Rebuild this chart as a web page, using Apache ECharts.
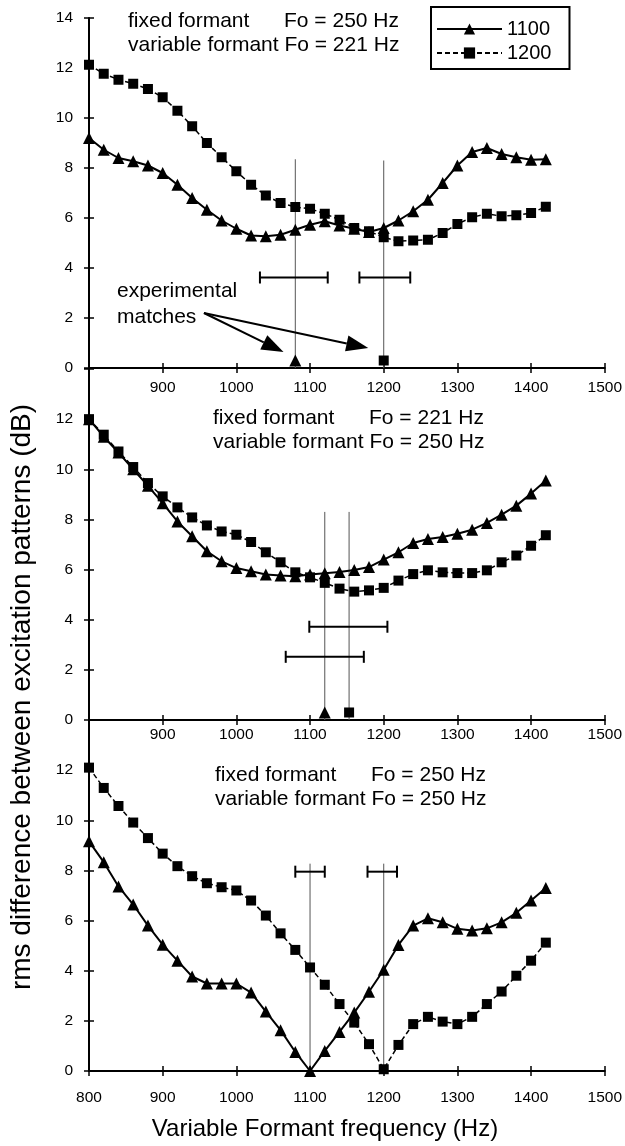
<!DOCTYPE html>
<html><head><meta charset="utf-8">
<script src="https://cdn.jsdelivr.net/npm/echarts@6/dist/echarts.min.js"></script>
<style>html,body{margin:0;padding:0;background:#fff}#c{width:625px;height:1146px}</style>
</head><body><div id="c"></div>
<script>
// ---------- data ----------
const freqs = [800,820,840,860,880,900,920,940,960,980,1000,1020,1040,1060,1080,1100,
               1120,1140,1160,1180,1200,1220,1240,1260,1280,1300,1320,1340,1360,1380,1400,1420];

// Panel 1: fixed Fo = 250 Hz, variable Fo = 221 Hz
const p1_1100 = [9.2,8.73,8.4,8.27,8.1,7.8,7.33,6.8,6.33,5.9,5.57,5.3,5.27,5.33,5.53,5.73,
                 5.87,5.7,5.57,5.44,5.6,5.9,6.27,6.73,7.4,8.1,8.64,8.8,8.56,8.43,8.33,8.35];
const p1_1200 = [12.13,11.77,11.53,11.37,11.16,10.83,10.29,9.67,9.0,8.43,7.87,7.33,6.9,6.6,6.44,6.37,
                 6.17,5.93,5.6,5.47,5.23,5.07,5.1,5.13,5.4,5.76,6.03,6.17,6.07,6.11,6.2,6.45];
// Panel 2: fixed Fo = 221 Hz, variable Fo = 250 Hz
const p2_1100 = [12.0,11.3,10.67,10.0,9.34,8.65,7.92,7.33,6.73,6.33,6.06,5.93,5.8,5.76,5.73,5.8,
                 5.85,5.9,5.98,6.1,6.4,6.69,7.06,7.22,7.3,7.43,7.59,7.86,8.19,8.55,9.03,9.55];
const p2_1200 = [12.0,11.38,10.71,10.09,9.45,8.92,8.48,8.08,7.76,7.52,7.39,7.1,6.69,6.29,5.89,5.69,
                 5.47,5.24,5.12,5.17,5.27,5.56,5.82,5.97,5.89,5.86,5.86,5.97,6.29,6.56,6.95,7.37];
// Panel 3: fixed Fo = 250 Hz, variable Fo = 250 Hz
const p3_1100 = [9.16,8.33,7.36,6.64,5.8,5.04,4.4,3.77,3.49,3.49,3.49,3.13,2.37,1.63,0.76,0.0,
                 0.8,1.56,2.33,3.16,4.04,5.03,5.8,6.09,5.93,5.67,5.6,5.69,5.93,6.31,6.8,7.3];
const p3_1200 = [12.1,11.29,10.57,9.91,9.29,8.67,8.17,7.77,7.49,7.33,7.2,6.8,6.2,5.49,4.83,4.13,
                 3.44,2.67,1.93,1.07,0.07,1.04,1.87,2.16,1.97,1.87,2.16,2.67,3.17,3.8,4.4,5.12];

// experimental matches: [frequency, top of guide line]
const guides = [
  [[1080, 8.35], [1200, 8.3]],
  [[1120, 8.3], [1153, 8.3]],
  [[1100, 8.27], [1200, 8.27]]
];
// error bars: [low, high, level]
const errBars = [
  [[1032, 1124, 3.62], [1167, 1236, 3.62]],
  [[1099, 1205, 3.72], [1067, 1173, 2.52]],
  [[1080, 1120, 7.95], [1178, 1218, 7.95]]
];
// matched markers on the axis
const matchTri = [[[1080, 0.3]], [[1120, 0.3]], []];
const matchSq  = [[[1200, 0.3]], [[1153, 0.3]], []];
// arrows in panel 1: [x1, y1, x2, y2]
const arrows1 = [[956, 2.2, 1064, 0.64], [956, 2.2, 1179, 0.8]];

const xTickMin = 800, xTickMax = 1500, xStep = 100;
const yMin = 0, yMax = 14, yStep = 2;

const panelText = [
  {l1: 'fixed formant', fo: 'Fo = 250 Hz', l2: 'variable formant Fo = 221 Hz'},
  {l1: 'fixed formant', fo: 'Fo = 221 Hz', l2: 'variable formant Fo = 250 Hz'},
  {l1: 'fixed formant', fo: 'Fo = 250 Hz', l2: 'variable formant Fo = 250 Hz'}
];

// ---------- layout ----------
const FONT = '"Liberation Sans", Arial, Helvetica, sans-serif';
const grids = [
  {left: 89, top: 18, width: 525, height: 350},
  {left: 89, top: 369, width: 525, height: 351},
  {left: 89, top: 720, width: 525, height: 351}
];
const xLabelMargin = [12, 7, 19];
const textPos = [
  {x: 128, xr: 399, y1: 21, y2: 45},
  {x: 213, xr: 484, y1: 418, y2: 442},
  {x: 215, xr: 486, y1: 775, y2: 799}
];

const xAxes = [], yAxes = [];
for (let i = 0; i < 3; i++) {
  xAxes.push({
    type: 'value', gridIndex: i, min: xTickMin, max: xTickMax, interval: xStep, position: 'bottom',
    axisLine: {show: true, onZero: false, lineStyle: {color: '#000', width: 2}},
    axisTick: {show: true, length: 5, lineStyle: {color: '#000', width: 1.5}},
    axisLabel: {show: true, color: '#000', fontSize: 15.5, fontFamily: FONT, margin: xLabelMargin[i],
      showMinLabel: true, showMaxLabel: true,
      formatter: (v) => (i < 2 && v === xTickMin) ? '' : String(v)},
    splitLine: {show: false}
  });
  yAxes.push({
    type: 'value', gridIndex: i, min: yMin, max: yMax, interval: yStep, position: 'left',
    axisLine: {show: true, onZero: false, lineStyle: {color: '#000', width: 2}},
    axisTick: {show: true, length: 5, lineStyle: {color: '#000', width: 1.5}},
    axisLabel: {show: true, color: '#000', fontSize: 15.5, fontFamily: FONT, margin: 16,
      showMinLabel: true, showMaxLabel: true,
      formatter: (v) => (i > 0 && v === yMax) ? '' : String(v)},
    splitLine: {show: false}
  });
}
// duplicate axes to draw inside half of the crossing ticks
for (let i = 0; i < 3; i++) {
  xAxes.push({
    type: 'value', gridIndex: i, min: xTickMin, max: xTickMax, interval: xStep, position: 'bottom',
    axisLine: {show: false}, axisLabel: {show: false}, splitLine: {show: false},
    axisTick: {show: true, inside: true, length: 5, lineStyle: {color: '#000', width: 1.5}}
  });
  yAxes.push({
    type: 'value', gridIndex: i, min: yMin, max: yMax, interval: yStep, position: 'left',
    axisLine: {show: false}, axisLabel: {show: false}, splitLine: {show: false},
    axisTick: {show: true, inside: true, length: 5, lineStyle: {color: '#000', width: 1.5}}
  });
}

const series = [];
const dataSets = [[p1_1100, p1_1200], [p2_1100, p2_1200], [p3_1100, p3_1200]];

for (let i = 0; i < 3; i++) {
  // guide lines
  series.push({
    type: 'custom', name: 'guide' + i, xAxisIndex: i, yAxisIndex: i, z: 1, silent: true,
    data: guides[i], encode: {x: 0, y: 1},
    renderItem: (params, api) => {
      const a = api.coord([api.value(0), 0]);
      const b = api.coord([api.value(0), api.value(1)]);
      return {type: 'line', shape: {x1: a[0], y1: a[1], x2: b[0], y2: b[1]},
        style: {stroke: '#555', lineWidth: 1}};
    }
  });
  // error bars
  series.push({
    type: 'custom', name: 'err' + i, xAxisIndex: i, yAxisIndex: i, z: 2, silent: true,
    data: errBars[i], encode: {x: [0, 1], y: 2},
    renderItem: (params, api) => {
      const a = api.coord([api.value(0), api.value(2)]);
      const b = api.coord([api.value(1), api.value(2)]);
      const c = 6, st = {stroke: '#000', lineWidth: 2};
      return {type: 'group', children: [
        {type: 'line', shape: {x1: a[0], y1: a[1], x2: b[0], y2: b[1]}, style: st},
        {type: 'line', shape: {x1: a[0], y1: a[1] - c, x2: a[0], y2: a[1] + c}, style: st},
        {type: 'line', shape: {x1: b[0], y1: b[1] - c, x2: b[0], y2: b[1] + c}, style: st}
      ]};
    }
  });
  series.push({
    type: 'line', name: '1100', xAxisIndex: i, yAxisIndex: i, z: 3, clip: false,
    data: freqs.map((f, k) => [f, dataSets[i][0][k]]),
    symbol: 'triangle', symbolSize: 12, showSymbol: true,
    lineStyle: {color: '#000', width: 2}, itemStyle: {color: '#000', opacity: 1}
  });
  series.push({
    type: 'line', name: '1200', xAxisIndex: i, yAxisIndex: i, z: 3, clip: false,
    data: freqs.map((f, k) => [f, dataSets[i][1][k]]),
    symbol: 'rect', symbolSize: 10, showSymbol: true,
    lineStyle: {color: '#000', width: 1.5, type: [5, 3]}, itemStyle: {color: '#000', opacity: 1}
  });
  if (matchTri[i].length) series.push({
    type: 'scatter', name: 'mt' + i, xAxisIndex: i, yAxisIndex: i, z: 4, clip: false,
    data: matchTri[i], symbol: 'triangle', symbolSize: 12, itemStyle: {color: '#000', opacity: 1}
  });
  if (matchSq[i].length) series.push({
    type: 'scatter', name: 'ms' + i, xAxisIndex: i, yAxisIndex: i, z: 4, clip: false,
    data: matchSq[i], symbol: 'rect', symbolSize: 10, itemStyle: {color: '#000', opacity: 1}
  });
}
// arrows
series.push({
  type: 'custom', name: 'arrows', xAxisIndex: 0, yAxisIndex: 0, z: 5, silent: true,
  data: arrows1, encode: {x: [0, 2], y: [1, 3]},
  renderItem: (params, api) => {
    const p1 = api.coord([api.value(0), api.value(1)]);
    const p2 = api.coord([api.value(2), api.value(3)]);
    const dx = p2[0] - p1[0], dy = p2[1] - p1[1], L = Math.hypot(dx, dy);
    const ux = dx / L, uy = dy / L, hl = 22, hw = 8;
    const bx = p2[0] - ux * hl, by = p2[1] - uy * hl;
    return {type: 'group', children: [
      {type: 'line', shape: {x1: p1[0], y1: p1[1], x2: bx, y2: by}, style: {stroke: '#000', lineWidth: 2}},
      {type: 'polygon', shape: {points: [p2, [bx - uy * hw, by + ux * hw], [bx + uy * hw, by - ux * hw]]},
        style: {fill: '#000'}}
    ]};
  }
});

const graphic = [];
function txt(t, x, y, size, align, extra) {
  return Object.assign({type: 'text', x: x, y: y, silent: true,
    style: {text: t, fill: '#000', fontSize: size, fontFamily: FONT, align: align || 'left', verticalAlign: 'middle'}}, extra || {});
}
for (let i = 0; i < 3; i++) {
  graphic.push(txt(panelText[i].l1, textPos[i].x, textPos[i].y1, 21, 'left'));
  graphic.push(txt(panelText[i].fo, textPos[i].xr, textPos[i].y1, 21, 'right'));
  graphic.push(txt(panelText[i].l2, textPos[i].x, textPos[i].y2, 21, 'left'));
}
graphic.push(txt('experimental', 117, 291, 21, 'left'));
graphic.push(txt('matches', 117, 317, 21, 'left'));
graphic.push(txt('Variable Formant frequency (Hz)', 325, 1129, 24, 'center'));
graphic.push(txt('rms difference between excitation patterns (dB)', 22, 697, 28, 'center', {rotation: Math.PI / 2}));

const chart = echarts.init(document.getElementById('c'), null, {renderer: 'canvas'});
chart.setOption({
  animation: false,
  backgroundColor: '#fff',
  grid: grids,
  xAxis: xAxes,
  yAxis: yAxes,
  legend: {
    data: ['1100', '1200'], orient: 'vertical', left: 431, top: 7,
    padding: [12, 18, 6, 5], itemGap: 4, itemWidth: 65, itemHeight: 14,
    borderColor: '#000', borderWidth: 2, backgroundColor: '#fff',
    textStyle: {fontSize: 20, fontFamily: FONT, color: '#000'}
  },
  series: series,
  graphic: graphic
});
</script></body></html>
